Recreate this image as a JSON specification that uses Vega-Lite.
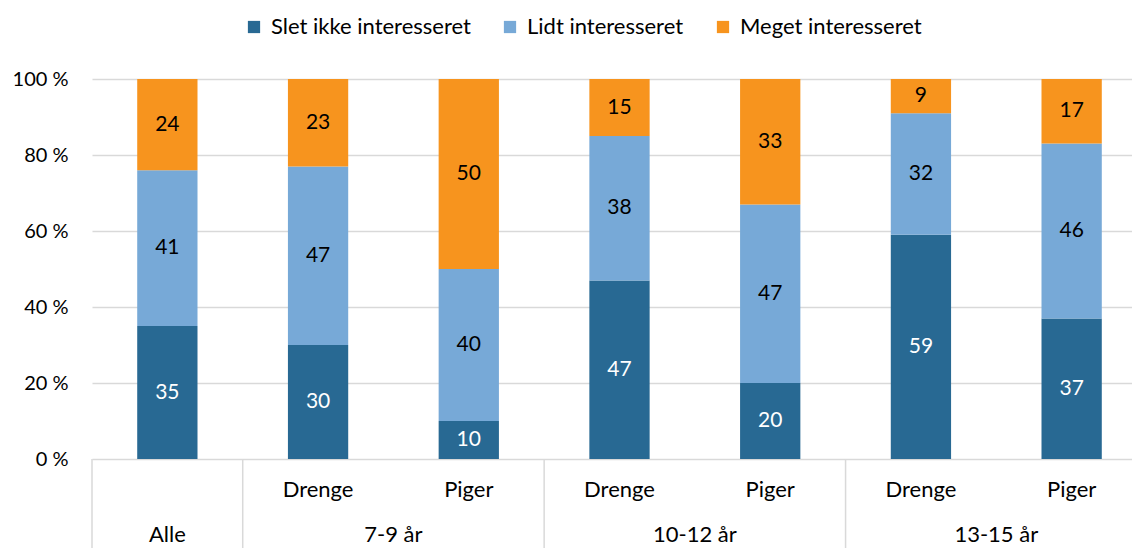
{
  "$schema": "https://vega.github.io/schema/vega-lite/v6.json",
  "autosize": {"type": "none"},
  "width": 1040,
  "height": 469,
  "padding": {"left": 92, "top": 79, "right": 0, "bottom": 0},
  "background": "white",
  "config": {"view": {"stroke": null}, "font": "Lato"},
  "datasets": {
    "vals": [
      {"key": "Alle", "cat": "Slet ikke interesseret", "value": 35},
      {"key": "Alle", "cat": "Lidt interesseret", "value": 41},
      {"key": "Alle", "cat": "Meget interesseret", "value": 24},
      {"key": "7-9 Drenge", "cat": "Slet ikke interesseret", "value": 30},
      {"key": "7-9 Drenge", "cat": "Lidt interesseret", "value": 47},
      {"key": "7-9 Drenge", "cat": "Meget interesseret", "value": 23},
      {"key": "7-9 Piger", "cat": "Slet ikke interesseret", "value": 10},
      {"key": "7-9 Piger", "cat": "Lidt interesseret", "value": 40},
      {"key": "7-9 Piger", "cat": "Meget interesseret", "value": 50},
      {"key": "10-12 Drenge", "cat": "Slet ikke interesseret", "value": 47},
      {"key": "10-12 Drenge", "cat": "Lidt interesseret", "value": 38},
      {"key": "10-12 Drenge", "cat": "Meget interesseret", "value": 15},
      {"key": "10-12 Piger", "cat": "Slet ikke interesseret", "value": 20},
      {"key": "10-12 Piger", "cat": "Lidt interesseret", "value": 47},
      {"key": "10-12 Piger", "cat": "Meget interesseret", "value": 33},
      {"key": "13-15 Drenge", "cat": "Slet ikke interesseret", "value": 59},
      {"key": "13-15 Drenge", "cat": "Lidt interesseret", "value": 32},
      {"key": "13-15 Drenge", "cat": "Meget interesseret", "value": 9},
      {"key": "13-15 Piger", "cat": "Slet ikke interesseret", "value": 37},
      {"key": "13-15 Piger", "cat": "Lidt interesseret", "value": 46},
      {"key": "13-15 Piger", "cat": "Meget interesseret", "value": 17}
    ],
    "cats": [
      {"key": "Alle", "sub": "", "grp": "Alle"},
      {"key": "7-9 Drenge", "sub": "Drenge", "grp": "7-9 år"},
      {"key": "7-9 Piger", "sub": "Piger", "grp": "7-9 år"},
      {"key": "10-12 Drenge", "sub": "Drenge", "grp": "10-12 år"},
      {"key": "10-12 Piger", "sub": "Piger", "grp": "10-12 år"},
      {"key": "13-15 Drenge", "sub": "Drenge", "grp": "13-15 år"},
      {"key": "13-15 Piger", "sub": "Piger", "grp": "13-15 år"}
    ]
  },
  "layer": [
    {
      "data": {"name": "cats"},
      "mark": {"type": "rule", "color": "#d9d9d9", "strokeWidth": 1.5},
      "transform": [{"filter": "datum.sub !== 'Piger'"}],
      "encoding": {
        "x": {"field": "key", "type": "nominal", "bandPosition": 0},
        "y": {"datum": 0},
        "y2": {"datum": -23.42}
      }
    },
    {
      "data": {"name": "vals"},
      "transform": [
        {"calculate": "indexof(['Slet ikke interesseret','Lidt interesseret','Meget interesseret'], datum.cat)", "as": "ord"},
        {"stack": "value", "groupby": ["key"], "sort": [{"field": "ord", "order": "ascending"}], "as": ["y0", "y1"]},
        {"calculate": "(datum.y0 + datum.y1) / 2", "as": "ymid"}
      ],
      "layer": [
        {
          "mark": {"type": "bar", "width": {"band": 0.4}},
          "encoding": {
            "x": {
              "field": "key", "type": "nominal", "sort": null,
              "scale": {"type": "band", "paddingInner": 0, "paddingOuter": 0, "range": [0, 1055],
                "domain": ["Alle", "7-9 Drenge", "7-9 Piger", "10-12 Drenge", "10-12 Piger", "13-15 Drenge", "13-15 Piger"]},
              "axis": null
            },
            "y": {
              "field": "y0", "type": "quantitative",
              "scale": {"domain": [-23.42, 100], "nice": false, "zero": false},
              "axis": {
                "values": [0, 20, 40, 60, 80, 100],
                "labelExpr": "datum.value + ' %'",
                "title": null, "domain": false, "ticks": false, "grid": true,
                "labelPadding": 24, "labelFontSize": 20, "labelColor": "#000000",
                "gridColor": "#d9d9d9", "gridWidth": 1.5, "gridOpacity": 1
              }
            },
            "y2": {"field": "y1"},
            "color": {
              "field": "cat", "type": "nominal",
              "scale": {"domain": ["Slet ikke interesseret", "Lidt interesseret", "Meget interesseret"],
                        "range": ["#286993", "#77a9d7", "#f7941e"]},
              "legend": {
                "title": null, "orient": "none", "direction": "horizontal",
                "legendX": 151, "legendY": -63,
                "symbolType": "square", "symbolSize": 150, "symbolStrokeWidth": 0,
                "labelFontSize": 22, "labelLimit": 400, "labelColor": "#000000", "columnPadding": 28, "labelOffset": 6
              }
            }
          }
        },
        {
          "mark": {"type": "text", "fontSize": 21, "baseline": "middle", "align": "center"},
          "encoding": {
            "x": {"field": "key", "type": "nominal"},
            "y": {"field": "ymid", "type": "quantitative"},
            "text": {"field": "value", "type": "quantitative"},
            "color": {"condition": {"test": "datum.cat === 'Slet ikke interesseret'", "value": "#ffffff"}, "value": "#000000"}
          }
        }
      ]
    },
    {
      "data": {"name": "cats"},
      "mark": {"type": "text", "fontSize": 22, "baseline": "middle", "align": "center", "color": "#000000"},
      "encoding": {
        "x": {"field": "key", "type": "nominal"},
        "y": {"datum": -8.2},
        "text": {"field": "sub"}
      }
    },
    {
      "data": {"name": "cats"},
      "transform": [{"filter": "datum.key === 'Alle'"}],
      "mark": {"type": "text", "fontSize": 22, "baseline": "middle", "align": "center", "color": "#000000"},
      "encoding": {
        "x": {"field": "key", "type": "nominal"},
        "y": {"datum": -20},
        "text": {"field": "grp"}
      }
    },
    {
      "data": {"name": "cats"},
      "transform": [{"filter": "datum.sub === 'Drenge'"}],
      "mark": {"type": "text", "fontSize": 22, "baseline": "middle", "align": "center", "color": "#000000"},
      "encoding": {
        "x": {"field": "key", "type": "nominal", "bandPosition": 1},
        "y": {"datum": -20},
        "text": {"field": "grp"}
      }
    }
  ]
}
